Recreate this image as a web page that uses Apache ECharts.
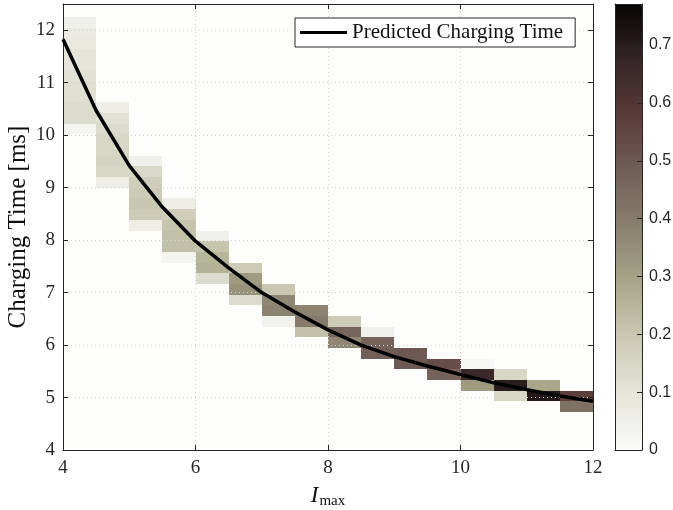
<!DOCTYPE html>
<html>
<head>
<meta charset="utf-8">
<script src="https://cdn.jsdelivr.net/npm/echarts@6/dist/echarts.min.js"></script>
<style>
html,body{margin:0;padding:0;background:#fff;}
#main{width:673px;height:510px;}
</style>
</head>
<body>
<div id="main"></div>
<script>
// ---- histogram binning (x bins of I_max, y bins of charging time) ----
const xEdgeStart = 4;
const xBinWidth = 0.5;
const yEdgeTop = 12.253;
const yBinHeight = 0.2035;

// index of the top-most non-empty y bin in each x column
const columnFirstBin = [0, 8, 13, 17, 20, 23, 25, 27, 28, 29, 31, 32, 32, 33, 34, 35];

// normalised density per cell, from the top bin downwards, per x column
const columnDensity = [
  [0.05, 0.07, 0.08, 0.10, 0.10, 0.11, 0.12, 0.12, 0.13, 0.13, 0.03],
  [0.06, 0.11, 0.13, 0.15, 0.15, 0.16, 0.15, 0.06],
  [0.05, 0.14, 0.18, 0.19, 0.20, 0.19, 0.06],
  [0.06, 0.18, 0.21, 0.22, 0.22, 0.03],
  [0.05, 0.21, 0.25, 0.26, 0.13],
  [0.19, 0.32, 0.34, 0.13],
  [0.20, 0.37, 0.38, 0.04],
  [0.38, 0.40, 0.22],
  [0.19, 0.46, 0.37],
  [0.05, 0.47, 0.48],
  [0.50, 0.50],
  [0.53, 0.47],
  [0.02, 0.66, 0.32],
  [0.15, 0.70, 0.15],
  [0.29, 0.71],
  [0.57, 0.43]
];

// predicted charging time curve
const predictedImax = [4, 4.5, 5, 5.5, 6, 6.5, 7, 7.5, 8, 8.5, 9, 9.5, 10, 10.5, 11, 11.5, 12];
const predictedTime = [11.83, 10.47, 9.42, 8.63, 7.98, 7.47, 7.00, 6.63, 6.29, 6.00, 5.78, 5.60, 5.44, 5.28, 5.15, 5.03, 4.93];

// colour scale
const densityMax = 0.771;
const colorStops = ['#fcfcfa', '#e5e5db', '#cbcbb5', '#a8a78a', '#8a806e', '#725f58', '#5a3b3b', '#352525', '#060505'];

const legendName = 'Predicted Charging Time';
const serif = "'Liberation Serif', 'Times New Roman', serif";
const sans = "'Liberation Sans', Arial, sans-serif";
const axisColor = '#262626';

// build cell table: [xLeft, yBottom, density, xRight, yTop]
const cells = [];
columnDensity.forEach(function (vals, c) {
  const x0 = xEdgeStart + c * xBinWidth;
  const x1 = x0 + xBinWidth;
  vals.forEach(function (v, j) {
    const k = columnFirstBin[c] + j;
    const yTop = yEdgeTop - k * yBinHeight;
    const yBot = yTop - yBinHeight;
    cells.push([x0, yBot, v, x1, yTop]);
  });
});
const linePoints = predictedImax.map(function (x, i) { return [x, predictedTime[i]]; });

const chart = echarts.init(document.getElementById('main'), null, {renderer: 'canvas'});

const gridLine = {show: true, lineStyle: {color: '#d4d4d4', type: [1, 3], width: 1}};

chart.setOption({
  animation: false,
  backgroundColor: '#ffffff',
  grid: [
    {left: 63, top: 4, width: 530, height: 446, show: true, backgroundColor: '#fdfdfc', borderWidth: 0,
     containLabel: false, outerBoundsMode: 'none'},
    {left: 615, top: 4, width: 27, height: 446, show: false, containLabel: false, outerBoundsMode: 'none'}
  ],
  legend: {
    data: [legendName],
    selectedMode: false,
    left: 295, top: 18,
    icon: 'rect',
    itemWidth: 47, itemHeight: 3,
    padding: [4, 12, 4, 5],
    borderColor: axisColor, borderWidth: 1,
    backgroundColor: '#ffffff',
    textStyle: {fontFamily: serif, fontSize: 21, color: '#111'}
  },
  visualMap: {
    type: 'continuous',
    min: 0, max: densityMax,
    dimension: 2,
    seriesIndex: 0,
    inRange: {color: colorStops},
    calculable: false,
    hoverLink: false,
    orient: 'vertical',
    left: 615, top: 4,
    itemWidth: 27, itemHeight: 446,
    padding: 0,
    text: null,
    z: 4
  },
  xAxis: [
    {
      type: 'value', gridIndex: 0, min: 4, max: 12, interval: 2, position: 'bottom', z: 3,
      axisLine: {show: true, onZero: false, lineStyle: {color: axisColor, width: 1}},
      axisTick: {show: true, inside: true, length: 5, lineStyle: {color: axisColor}},
      axisLabel: {color: axisColor, fontFamily: serif, fontSize: 19, margin: 9},
      splitLine: gridLine,
      name: '{i|I}{s|max}',
      nameLocation: 'middle', nameGap: 34, nameMoveOverlap: false,
      nameTextStyle: {
        rich: {
          i: {fontFamily: serif, fontStyle: 'italic', fontSize: 23, color: '#111', verticalAlign: 'bottom', padding: [0, 1, 2, 0]},
          s: {fontFamily: serif, fontSize: 15, color: '#111', verticalAlign: 'bottom'}
        }
      }
    },
    {
      type: 'value', gridIndex: 0, min: 4, max: 12, interval: 2, position: 'top', z: 3,
      axisLine: {show: true, onZero: false, lineStyle: {color: axisColor, width: 1}},
      axisTick: {show: true, inside: true, length: 5, lineStyle: {color: axisColor}},
      axisLabel: {show: false},
      splitLine: {show: false}
    },
    {
      type: 'value', gridIndex: 1, min: 0, max: 1, position: 'bottom', z: 10,
      axisLine: {show: true, onZero: false, lineStyle: {color: axisColor, width: 1}},
      axisTick: {show: false}, axisLabel: {show: false}, splitLine: {show: false}
    },
    {
      type: 'value', gridIndex: 1, min: 0, max: 1, position: 'top', z: 10,
      axisLine: {show: true, onZero: false, lineStyle: {color: axisColor, width: 1}},
      axisTick: {show: false}, axisLabel: {show: false}, splitLine: {show: false}
    }
  ],
  yAxis: [
    {
      type: 'value', gridIndex: 0, min: 4, max: 12.5, interval: 1, position: 'left', z: 3,
      axisLine: {show: true, onZero: false, lineStyle: {color: axisColor, width: 1}},
      axisTick: {show: true, inside: true, length: 5, lineStyle: {color: axisColor}},
      axisLabel: {
        color: axisColor, fontFamily: serif, fontSize: 19, margin: 8,
        formatter: function (v) { return Math.abs(v - Math.round(v)) < 1e-6 ? String(Math.round(v)) : ''; }
      },
      splitLine: gridLine,
      name: 'Charging Time [ms]',
      nameLocation: 'middle', nameGap: 32, nameMoveOverlap: false,
      nameTextStyle: {fontFamily: serif, fontSize: 25, color: '#111'}
    },
    {
      type: 'value', gridIndex: 0, min: 4, max: 12.5, interval: 1, position: 'right', z: 3,
      axisLine: {show: true, onZero: false, lineStyle: {color: axisColor, width: 1}},
      axisTick: {show: true, inside: true, length: 5, lineStyle: {color: axisColor}},
      axisLabel: {show: false},
      splitLine: {show: false}
    },
    {
      type: 'value', gridIndex: 1, min: 0, max: densityMax, interval: 0.1, position: 'right', z: 10,
      axisLine: {show: true, onZero: false, lineStyle: {color: axisColor, width: 1}},
      axisTick: {show: true, inside: true, length: 5, lineStyle: {color: axisColor}},
      axisLabel: {
        color: axisColor, fontFamily: sans, fontSize: 16, margin: 7,
        formatter: function (v) {
          const t = v * 10;
          if (Math.abs(t - Math.round(t)) > 1e-6) return '';
          return Math.round(t) === 0 ? '0' : (Math.round(t) / 10).toFixed(1);
        }
      },
      splitLine: {show: false}
    },
    {
      type: 'value', gridIndex: 1, min: 0, max: densityMax, position: 'left', z: 10,
      axisLine: {show: true, onZero: false, lineStyle: {color: axisColor, width: 1}},
      axisTick: {show: false}, axisLabel: {show: false}, splitLine: {show: false}
    }
  ],
  series: [
    {
      type: 'custom',
      name: 'density',
      xAxisIndex: 0, yAxisIndex: 0,
      silent: true,
      z: 2,
      encode: {x: [0, 3], y: [1, 4]},
      data: cells,
      renderItem: function (params, api) {
        const p0 = api.coord([api.value(0), api.value(4)]);
        const p1 = api.coord([api.value(3), api.value(1)]);
        const x0 = Math.round(p0[0]), y0 = Math.round(p0[1]);
        const x1 = Math.round(p1[0]), y1 = Math.round(p1[1]);
        return {
          type: 'rect',
          shape: {x: x0, y: y0, width: x1 - x0, height: y1 - y0},
          style: {fill: api.visual('color'), stroke: null}
        };
      }
    },
    {
      type: 'line',
      name: legendName,
      xAxisIndex: 0, yAxisIndex: 0,
      data: linePoints,
      symbol: 'none',
      showSymbol: false,
      smooth: false,
      silent: true,
      z: 5,
      itemStyle: {color: '#000000'},
      lineStyle: {color: '#000000', width: 3.5}
    }
  ]
});
</script>
</body>
</html>
